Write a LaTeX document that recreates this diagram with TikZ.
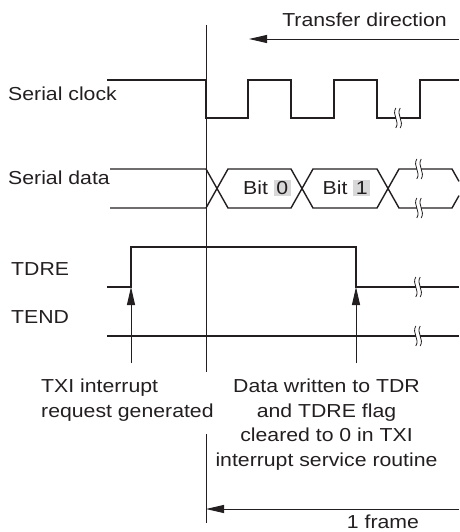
\documentclass[tikz,border=0pt]{standalone}
\usepackage{fontspec}
\setmainfont{Liberation Sans}[FakeStretch=1.13]
\usetikzlibrary{arrows.meta}
\definecolor{ink}{RGB}{35,31,32}
\definecolor{hlgray}{RGB}{216,216,216}
\newcommand\graybox[1]{{\setlength{\fboxsep}{1.8pt}\colorbox{hlgray}{\hspace{0.8pt}#1\hspace{0.8pt}}}}
\begin{document}
\begin{tikzpicture}[x=1pt,y=-1pt,
  every node/.style={inner sep=0pt, text=ink, font=\fontsize{18.8}{24.5}\selectfont},
  sig/.style={draw=ink, line width=1.4pt, line join=miter},
  refline/.style={draw=ink, line width=0.9pt},
  arr/.style={draw=ink, line width=0.9pt, -{Triangle[length=18pt,width=8pt]}},
  brk/.pic={
    \fill[white] (-2.2,-7) rectangle (2.2,7);
    \draw[ink, line width=0.8pt] (-2.2,-10) .. controls (-6.5,-3) and (2.1,3) .. (-2.2,10);
    \draw[ink, line width=0.8pt] (2.2,-10) .. controls (-2.1,-3) and (6.5,3) .. (2.2,10);
  }]
\useasboundingbox (0,0) rectangle (459,532);

% labels
\node[anchor=base] (tdir) at (364.5,26.7) {Transfer direction};
\node[anchor=base west] (lclk) at (8,100) {Serial clock};
\node[anchor=base west] (ldat) at (8,184) {Serial data};
\node[anchor=base west] (ltdre) at (11,275) {TDRE};
\node[anchor=base west] (ltend) at (11,323) {TEND};

% reference vertical line
\coordinate (v1) at (206,25);
\coordinate (v2) at (206,372);
\coordinate (v3) at (206,434);
\coordinate (v4) at (206,523);
\draw[refline] (v1) -- (v2);
\draw[refline] (v3) -- (v4);

% transfer direction arrow
\coordinate (t1) at (459,39);
\coordinate (t2) at (249,39);
\draw[arr] (t1) -- (t2);

% serial clock
\draw[sig] (107,80) -- (206,80) -- (206,118) -- (248,118) -- (248,80) -- (291,80) -- (291,118)
  -- (334,118) -- (334,80) -- (377,80) -- (377,118) -- (420,118) -- (420,80) -- (459,80);
\pic at (398,118) {brk};

% serial data
\draw[sig] (110,169) -- (206,169) -- (228,208) -- (291,208) -- (313,169) -- (377,169) -- (399,208) -- (452,208) -- (459,195.6);
\draw[sig] (110,208) -- (206,208) -- (228,169) -- (291,169) -- (313,208) -- (377,208) -- (399,169) -- (452,169) -- (459,181.4);
\pic at (419,169) {brk};
\pic at (419,208) {brk};
\node[anchor=base] (b0) at (267,194.5) {Bit \graybox{0}};
\node[anchor=base] (b1) at (346.5,194.5) {Bit \graybox{1}};

% TDRE
\draw[sig] (107,287) -- (131,287) -- (131,247) -- (356,247) -- (356,287) -- (459,287);
\pic at (418,287) {brk};

% TEND
\draw[sig] (107,336) -- (459,336);
\pic at (418,336) {brk};

% event arrows
\coordinate (a1s) at (131,363);
\coordinate (a1e) at (131,287);
\coordinate (a2s) at (356,363);
\coordinate (a2e) at (356,287);
\draw[arr] (a1s) -- (a1e);
\draw[arr] (a2s) -- (a2e);

% bottom texts
\node[anchor=north west, align=left] (txi) at (41,379) {TXI interrupt\\request generated};
\node[anchor=north, align=center] (dw) at (326.5,379) {Data written to TDR\\and TDRE flag\\cleared to 0 in TXI\\interrupt service routine};

% 1 frame
\coordinate (f1) at (459,509);
\coordinate (f2) at (206,509);
\draw[arr] (f1) -- (f2);
\node[anchor=base] (frm) at (383,528) {1 frame};
\end{tikzpicture}
\end{document}
